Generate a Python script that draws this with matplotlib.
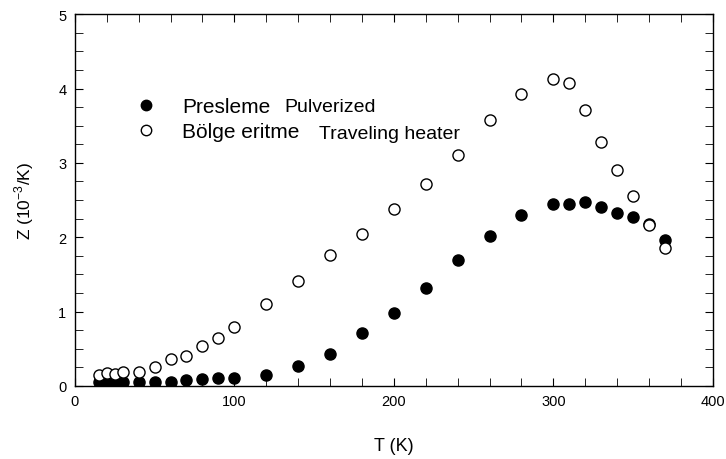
import matplotlib.pyplot as plt
from matplotlib.lines import Line2D
from matplotlib.ticker import MultipleLocator

plt.rcParams['font.family'] = ['Liberation Sans', 'DejaVu Sans']

T = [15, 20, 25, 30, 40, 50, 60, 70, 80, 90, 100, 120, 140, 160, 180, 200,
     220, 240, 260, 280, 300, 310, 320, 330, 340, 350, 360, 370]
z_pulverized = [0.05, 0.05, 0.05, 0.05, 0.055, 0.055, 0.055, 0.077, 0.09, 0.10,
                0.11, 0.144, 0.27, 0.43, 0.71, 0.98, 1.31, 1.69, 2.02, 2.30,
                2.44, 2.44, 2.47, 2.41, 2.32, 2.27, 2.18, 1.96]
z_traveling = [0.144, 0.17, 0.16, 0.19, 0.18, 0.25, 0.36, 0.40, 0.54, 0.64,
               0.79, 1.10, 1.41, 1.76, 2.04, 2.38, 2.71, 3.11, 3.58, 3.93,
               4.13, 4.07, 3.71, 3.28, 2.90, 2.55, 2.17, 1.85]

fig = plt.figure(figsize=(7.26, 4.6), dpi=100)
ax = fig.add_axes([0.103, 0.159, 0.879, 0.808])

ax.plot(T, z_pulverized, 'o', color='black', markersize=8, linestyle='none')
ax.plot(T, z_traveling, 'o', markerfacecolor='white', markeredgecolor='black',
        markeredgewidth=1.0, markersize=8, linestyle='none')

ax.set_xlim(0, 400)
ax.set_ylim(0, 5)
ax.xaxis.set_major_locator(MultipleLocator(100))
ax.xaxis.set_minor_locator(MultipleLocator(20))
ax.yaxis.set_major_locator(MultipleLocator(1))
ax.yaxis.set_minor_locator(MultipleLocator(0.25))
ax.tick_params(which='both', direction='in', top=True, right=True, labelsize=10.5)
ax.tick_params(which='major', length=6, pad=6)
ax.tick_params(which='minor', length=6)
for s in ax.spines.values():
    s.set_linewidth(1.0)

ax.set_xlabel('T (K)', fontsize=13, labelpad=21)
ax.set_ylabel(r'Z (10$^{\mathregular{-3}}$/K)', fontsize=12.5, labelpad=16)

# legend: Turkish labels, English notes written next to them
handles = [
    Line2D([], [], marker='o', linestyle='none', color='black', markersize=7.5),
    Line2D([], [], marker='o', linestyle='none', markerfacecolor='white',
           markeredgecolor='black', markersize=7.5),
]
ax.legend(handles, ['Presleme', 'Bölge eritme'], loc='center left',
          bbox_to_anchor=(0.062, 0.717), frameon=False, fontsize=15,
          handletextpad=0.75, labelspacing=0.3, borderpad=0)

ax.text(0.329, 0.739, 'Pulverized', transform=ax.transAxes, fontsize=14,
        va='baseline', ha='left')
ax.text(0.382, 0.667, 'Traveling heater', transform=ax.transAxes,
        fontsize=14, va='baseline', ha='left')

fig.savefig('out.png', dpi=100)
